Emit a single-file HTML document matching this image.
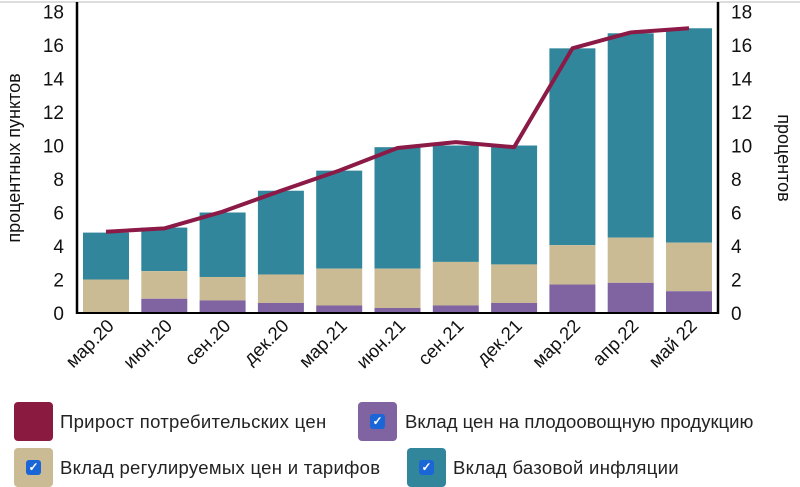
<!DOCTYPE html>
<html><head><meta charset="utf-8"><style>
body{margin:0;background:#fff;width:800px;height:479px;overflow:hidden;font-family:"Liberation Sans",sans-serif}
.lg{position:absolute;font-size:18.5px;color:#222;font-family:"Liberation Sans",sans-serif;white-space:nowrap}
.sw{position:absolute;width:39px;height:39px;border-radius:4px}
.cb{position:absolute;left:12px;top:12px;width:15px;height:15px;background:#1a66d6;border-radius:3px;color:#fff;font-size:12px;line-height:15px;text-align:center;font-weight:bold}
</style></head><body>
<svg id="s" width="800" height="380" style="position:absolute;left:0;top:0" font-family="Liberation Sans, sans-serif"></svg>
<div class="sw" style="left:14px;top:402px;background:#8b1a40"></div>
<div class="lg" style="left:60px;top:411px;letter-spacing:0.3px">Прирост потребительских цен</div>
<div class="sw" style="left:358px;top:402px;background:#8064a2"><div class="cb">✓</div></div>
<div class="lg" style="left:405px;top:411px">Вклад цен на плодоовощную продукцию</div>
<div class="sw" style="left:14px;top:448px;background:#cbbb94"><div class="cb">✓</div></div>
<div class="lg" style="left:60px;top:457px;letter-spacing:0.3px">Вклад регулируемых цен и тарифов</div>
<div class="sw" style="left:407px;top:448px;background:#31869b"><div class="cb">✓</div></div>
<div class="lg" style="left:453px;top:457px;letter-spacing:0.3px">Вклад базовой инфляции</div>
<script>
const tot=[4.8,5.1,6.0,7.3,8.5,9.9,10.0,10.0,15.8,16.7,17.0];
const bei=[2.0,2.5,2.15,2.3,2.65,2.65,3.05,2.9,4.05,4.5,4.2];
const pur=[0.05,0.85,0.75,0.6,0.45,0.3,0.45,0.6,1.7,1.8,1.3];
const ln=[4.85,5.05,6.05,7.3,8.5,9.85,10.2,9.9,15.8,16.75,17.0];
const lab=["мар.20","июн.20","сен.20","дек.20","мар.21","июн.21","сен.21","дек.21","мар.22","апр.22","май 22"];
const y=v=>313-16.75*v;
let h='<line x1="0" y1="2" x2="800" y2="2" stroke="#ddd" stroke-width="2"/>';
for(let i=0;i<11;i++){const x=83+i*58.3;
h+=`<rect x="${x}" y="${y(tot[i])}" width="46" height="${y(bei[i])-y(tot[i])}" fill="#31869b"/>`;
h+=`<rect x="${x}" y="${y(bei[i])}" width="46" height="${y(pur[i])-y(bei[i])}" fill="#cbbb94"/>`;
h+=`<rect x="${x}" y="${y(pur[i])}" width="46" height="${313-y(pur[i])}" fill="#8064a2"/>`;
const cx=x+23;
h+=`<text transform="translate(${cx+9},327) rotate(-45)" text-anchor="end" font-size="18.5" fill="#111">${lab[i]}</text>`;}
h+='<polyline fill="none" stroke="#8b1a47" stroke-width="4" stroke-linejoin="round" points="'+ln.map((v,i)=>(106+i*58.3)+','+y(v)).join(' ')+'"/>';
h+='<line x1="77" y1="2" x2="77" y2="314" stroke="#000" stroke-width="2.5"/><line x1="718" y1="2" x2="718" y2="314" stroke="#000" stroke-width="2.5"/><line x1="76" y1="313" x2="719" y2="313" stroke="#000" stroke-width="2"/>';
for(let v=0;v<=18;v+=2){h+=`<text x="64" y="${y(v)+7}" text-anchor="end" font-size="19" fill="#111">${v}</text><text x="731" y="${y(v)+7}" font-size="19" fill="#111">${v}</text>`;}
h+='<text transform="translate(20,158) rotate(-90)" text-anchor="middle" font-size="18" fill="#111">процентных пунктов</text>';
h+='<text transform="translate(778,158) rotate(90)" text-anchor="middle" font-size="18" fill="#111">процентов</text>';
document.getElementById('s').innerHTML=h;
</script>
</body></html>
